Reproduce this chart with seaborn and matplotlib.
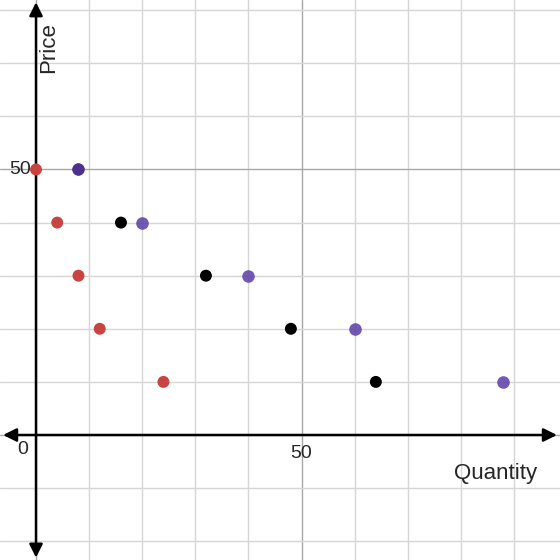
import pandas as pd
import numpy as np
import matplotlib.pyplot as plt
import seaborn as sns

sns.set_theme(style="white")
plt.rcParams['font.family'] = ['Liberation Sans', 'DejaVu Sans']

# data
price = [50, 40, 30, 20, 10]
qty_red = [0, 4, 8, 12, 24]
qty_black = [8, 16, 32, 48, 64]
qty_purple = [8, 20, 40, 60, 88]

df = pd.DataFrame({
    'quantity': qty_red + qty_black + qty_purple,
    'price': price * 3,
    'series': ['red'] * 5 + ['black'] * 5 + ['purple'] * 5,
})

fig = plt.figure(figsize=(5.6, 5.6), dpi=100)
ax = fig.add_axes([0, 0, 1, 1])

xmin, xmax = -6.78, 98.68
ymin, ymax = -23.54, 81.92
ax.set_xlim(xmin, xmax)
ax.set_ylim(ymin, ymax)

# grid: minor every 10, major every 50
for v in np.arange(-20, 100, 10):
    major = v % 50 == 0
    ax.axvline(v, color='#a8a8a8' if major else '#d6d6d6', lw=1, zorder=0)
for v in np.arange(-20, 90, 10):
    major = v % 50 == 0
    ax.axhline(v, color='#a8a8a8' if major else '#d6d6d6', lw=1, zorder=0)

# axes with arrows on both ends
arrow = dict(arrowstyle='<|-|>', lw=1.8, color='black', mutation_scale=20, shrinkA=0, shrinkB=0)
ax.annotate('', xy=(98.1, 0), xytext=(-6.2, 0), arrowprops=arrow, zorder=2)
ax.annotate('', xy=(0, 81.5), xytext=(0, -23.1), arrowprops=arrow, zorder=2)

# red and black opaque, purple slightly see-through (darker where it sits on black)
solid = df[df['series'] != 'purple']
sns.scatterplot(data=solid, x='quantity', y='price', hue='series',
                palette={'red': '#c74440', 'black': '#000000'},
                s=74, linewidth=0, legend=False, ax=ax, zorder=3, clip_on=False)
sns.scatterplot(data=df[df['series'] == 'purple'], x='quantity', y='price',
                color='#5a3ca6', alpha=0.85, s=82, linewidth=0, legend=False,
                ax=ax, zorder=4, clip_on=False)

ax.text(-2.6, -2.8, '0', fontsize=14, ha='center', va='center')
ax.text(50, -3.4, '50', fontsize=14, ha='center', va='center')
ax.text(-1.0, 50, '50', fontsize=14, ha='right', va='center')
ax.text(2.3, 73.0, 'Price', fontsize=16, rotation=90, ha='center', va='center')
ax.text(86.5, -7.3, 'Quantity', fontsize=16, ha='center', va='center')

ax.set_xlabel('')
ax.set_ylabel('')
ax.set_xticks([])
ax.set_yticks([])
for s in ax.spines.values():
    s.set_visible(False)

plt.savefig('out.png', dpi=100)
